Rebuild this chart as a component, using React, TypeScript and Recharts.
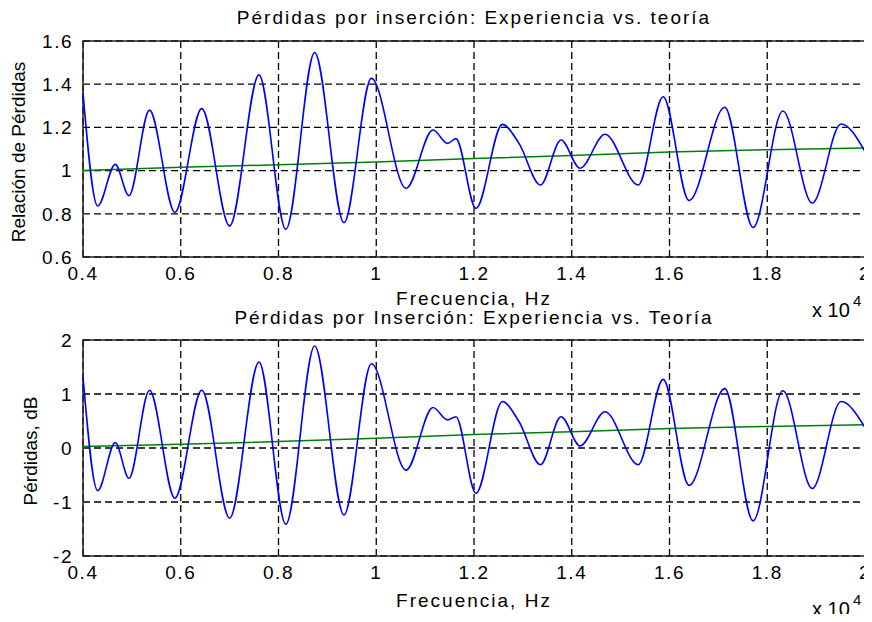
import React from "react";
import {
  LineChart,
  Line,
  XAxis,
  YAxis,
  CartesianGrid,
  ReferenceArea,
} from "recharts";

// frequency (Hz) of the measured curve's turning points
const freq = [
  4000, 4300, 4660, 4940, 5360, 5880, 6430, 7000, 7600, 8150, 8740, 9340, 9900,
  10610, 11160, 11460, 11630, 12040, 12580, 12920, 13360, 13780, 14170, 14680,
  15360, 15870, 16400, 17130, 17710, 18320, 18920, 19510, 20000,
];

// measured loss ratio
const relacion = [
  1.36, 0.836, 1.029, 0.884, 1.28, 0.807, 1.287, 0.744, 1.443, 0.728, 1.546,
  0.759, 1.427, 0.918, 1.188, 1.126, 1.148, 0.825, 1.214, 1.126, 0.933, 1.142,
  1.011, 1.168, 0.933, 1.342, 0.861, 1.293, 0.737, 1.276, 0.849, 1.216, 1.088,
];

// measured loss in dB
const perdidasDb = [
  1.32, -0.79, 0.1, -0.56, 1.07, -0.93, 1.07, -1.3, 1.59, -1.41, 1.89, -1.24,
  1.56, -0.41, 0.75, 0.52, 0.58, -0.84, 0.86, 0.49, -0.31, 0.58, 0.04, 0.67,
  -0.31, 1.27, -0.69, 1.1, -1.35, 1.06, -0.75, 0.86, 0.38,
];

// theory
const freqTeo = [4000, 6000, 8000, 10000, 12000, 14000, 16000, 18000, 20000];
const teoRelacion = [1.0, 1.015, 1.027, 1.04, 1.056, 1.07, 1.086, 1.097, 1.105];
const teoDb = [0.03, 0.07, 0.12, 0.18, 0.25, 0.3, 0.36, 0.4, 0.43];

const xTicks = [4000, 6000, 8000, 10000, 12000, 14000, 16000, 18000, 20000];
const yTicksTop = [0.6, 0.8, 1, 1.2, 1.4, 1.6];
const yTicksBottom = [-2, -1, 0, 1, 2];

const medido1 = freq.map((f, i) => ({ f, v: relacion[i] }));
const teoria1 = freqTeo.map((f, i) => ({ f, v: teoRelacion[i] }));
const medido2 = freq.map((f, i) => ({ f, v: perdidasDb[i] }));
const teoria2 = freqTeo.map((f, i) => ({ f, v: teoDb[i] }));

const tickStyle = { fill: "#000", fontSize: 19, letterSpacing: 1.5 };
const fmtX = (v: number) => String(v / 10000);
const fmtY = (v: number) => String(+v.toFixed(1));

function Panel({
  medido,
  teoria,
  yDomain,
  yTicks,
}: {
  medido: { f: number; v: number }[];
  teoria: { f: number; v: number }[];
  yDomain: [number, number];
  yTicks: number[];
}) {
  return (
    <LineChart
      width={872}
      height={300}
      margin={{ top: 41, right: 7, left: 0, bottom: 0 }}
    >
      <CartesianGrid stroke="#000" strokeDasharray="7 4" strokeWidth={1.3} />
      <XAxis
        type="number"
        dataKey="f"
        domain={[4000, 20000]}
        ticks={xTicks}
        tickFormatter={fmtX}
        height={43}
        tickLine={false}
        axisLine={false}
        tickSize={0}
        tickMargin={10}
        tick={tickStyle}
        interval={0}
      />
      <YAxis
        type="number"
        domain={yDomain}
        ticks={yTicks}
        tickFormatter={fmtY}
        width={83}
        tickLine={false}
        axisLine={false}
        tickSize={0}
        tickMargin={10}
        tick={tickStyle}
        interval={0}
      />
      <Line
        data={teoria}
        dataKey="v"
        type="linear"
        stroke="#008000"
        strokeWidth={1.5}
        dot={false}
        isAnimationActive={false}
      />
      <Line
        data={medido}
        dataKey="v"
        type="monotone"
        stroke="#0000ff"
        strokeWidth={1.6}
        dot={false}
        isAnimationActive={false}
      />
      <ReferenceArea
        x1={4000}
        x2={20000}
        y1={yDomain[0]}
        y2={yDomain[1]}
        fill="none"
        fillOpacity={0}
        stroke="#222"
        strokeWidth={1.5}
      />
    </LineChart>
  );
}

const txt: React.CSSProperties = {
  position: "absolute",
  fontSize: 19,
  lineHeight: "20px",
  whiteSpace: "nowrap",
  color: "#000",
};

function Exponent({ top }: { top: number }) {
  return (
    <>
      <div style={{ ...txt, left: 812, top, fontSize: 20 }}>x 10</div>
      <div
        style={{ ...txt, left: 853, top: top - 7, fontSize: 15, lineHeight: "15px" }}
      >
        4
      </div>
    </>
  );
}

export default function App() {
  return (
    <div
      style={{
        position: "relative",
        width: 872,
        height: 622,
        margin: -8,
        background: "#fff",
        fontFamily: "'Liberation Sans', Arial, sans-serif",
        overflow: "hidden",
      }}
    >
      <div style={{ position: "absolute", left: 0, top: 0 }}>
        <Panel
          medido={medido1}
          teoria={teoria1}
          yDomain={[0.6, 1.6]}
          yTicks={yTicksTop}
        />
      </div>
      <div style={{ position: "absolute", left: 0, top: 299 }}>
        <Panel
          medido={medido2}
          teoria={teoria2}
          yDomain={[-2, 2]}
          yTicks={yTicksBottom}
        />
      </div>

      <div
        style={{ ...txt, left: 474, top: 8, transform: "translateX(-50%)", letterSpacing: 2 }}
      >
        Pérdidas por inserción: Experiencia vs. teoría
      </div>
      <div
        style={{ ...txt, left: 474, top: 289, transform: "translateX(-50%)", letterSpacing: 2 }}
      >
        Frecuencia, Hz
      </div>
      <div
        style={{ ...txt, left: 474, top: 308, transform: "translateX(-50%)", letterSpacing: 2 }}
      >
        Pérdidas por Inserción: Experiencia vs. Teoría
      </div>
      <div
        style={{ ...txt, left: 474, top: 591, transform: "translateX(-50%)", letterSpacing: 2 }}
      >
        Frecuencia, Hz
      </div>

      <div
        style={{
          ...txt,
          left: 19,
          top: 152,
          transform: "translate(-50%, -50%) rotate(-90deg)",
        }}
      >
        Relación de Pérdidas
      </div>
      <div
        style={{
          ...txt,
          left: 31,
          top: 451,
          transform: "translate(-50%, -50%) rotate(-90deg)",
        }}
      >
        Pérdidas, dB
      </div>

      <Exponent top={300} />
      <Exponent top={599} />
    </div>
  );
}
